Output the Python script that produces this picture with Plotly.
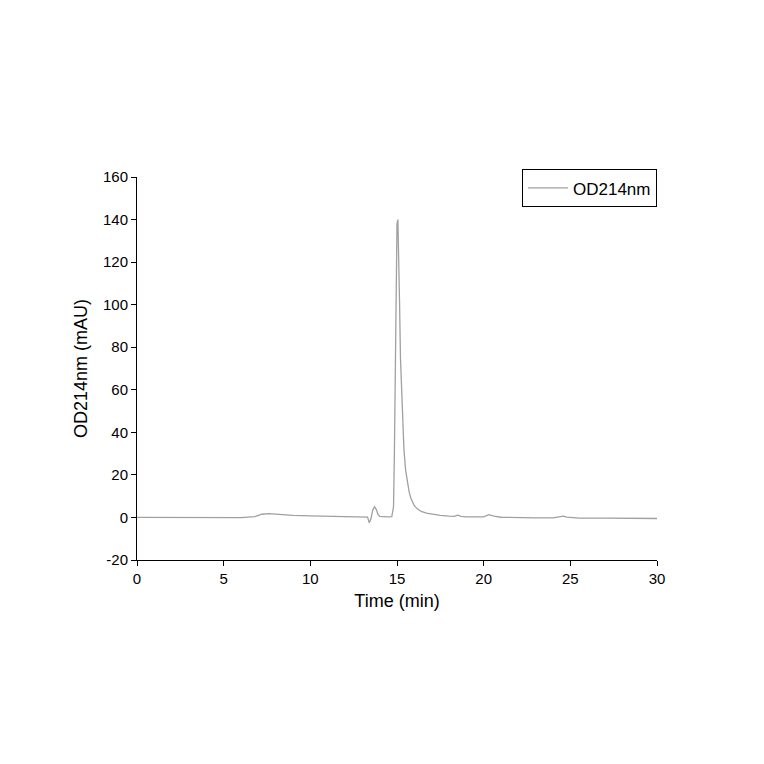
import plotly.graph_objects as go

time_min = [0, 1, 2, 3, 4, 5, 6, 6.8, 7.2, 7.6, 8.0, 8.5, 9, 10, 11, 12, 13, 13.3, 13.4, 13.5, 13.6, 13.7, 13.8, 13.9, 14.0, 14.2, 14.5, 14.7, 14.8, 14.85, 14.9, 14.95, 15.0, 15.05, 15.1, 15.15, 15.2, 15.3, 15.4, 15.5, 15.6, 15.7, 15.8, 15.9, 16.0, 16.2, 16.4, 16.7, 17.0, 17.5, 18.0, 18.3, 18.5, 18.7, 19, 19.5, 20.0, 20.3, 20.6, 21, 22, 23, 24, 24.4, 24.6, 24.8, 25.5, 27, 28.5, 30]
od214 = [0, 0, 0.1, 0.1, 0.1, 0, -0.1, 0.4, 1.5, 1.8, 1.5, 1.2, 1.0, 0.7, 0.5, 0.4, 0.3, 0.2, -2.5, -0.5, 3.5, 5.0, 3.8, 1.5, 0.5, 0.3, 0.3, 0.4, 5, 30, 70, 115, 138, 140, 125, 100, 75, 48, 32, 22, 16, 12, 9, 7, 5.5, 3.8, 2.8, 2.0, 1.5, 1.0, 0.6, 0.5, 1.1, 0.5, 0.3, 0.2, 0.3, 1.3, 0.6, 0.1, -0.2, -0.2, -0.2, 0.2, 0.6, 0.1, -0.3, -0.3, -0.3, -0.5]
y_ticks = [-20, 0, 20, 40, 60, 80, 100, 120, 140, 160]
y_tick_labels = ["-20", "0", "20", "40", "60", "80", "100", "120", "140", "160"]

fig = go.Figure(go.Scatter(x=time_min, y=od214, mode="lines", name="OD214nm",
                           line=dict(color="#a0a0a0", width=1.3)))
axis_common = dict(showline=True, linecolor="black", linewidth=1, ticks="outside",
                   ticklen=5, tickcolor="black", showgrid=False, zeroline=False,
                   tickfont=dict(family="Arial, Liberation Sans", size=15, color="black"),
                   title_font=dict(family="Arial, Liberation Sans", size=18, color="black"))
fig.update_xaxes(range=[0, 30], dtick=5, title_text="Time (min)", title_standoff=8, **axis_common)
fig.update_yaxes(range=[-20, 160], tickvals=y_ticks, ticktext=y_tick_labels,
                 title_text="OD214nm (mAU)", title_standoff=10, **axis_common)
fig.update_layout(width=764, height=764, margin=dict(l=129, r=115, t=169, b=212),
                  plot_bgcolor="white", paper_bgcolor="white", showlegend=True,
                  legend=dict(x=1.0, y=1.02, xanchor="right", yanchor="top",
                              bordercolor="black", borderwidth=1, bgcolor="white",
                              tracegroupgap=0, itemwidth=40,
                              font=dict(family="Arial, Liberation Sans", size=17, color="black")))
fig.write_html("out.html")
